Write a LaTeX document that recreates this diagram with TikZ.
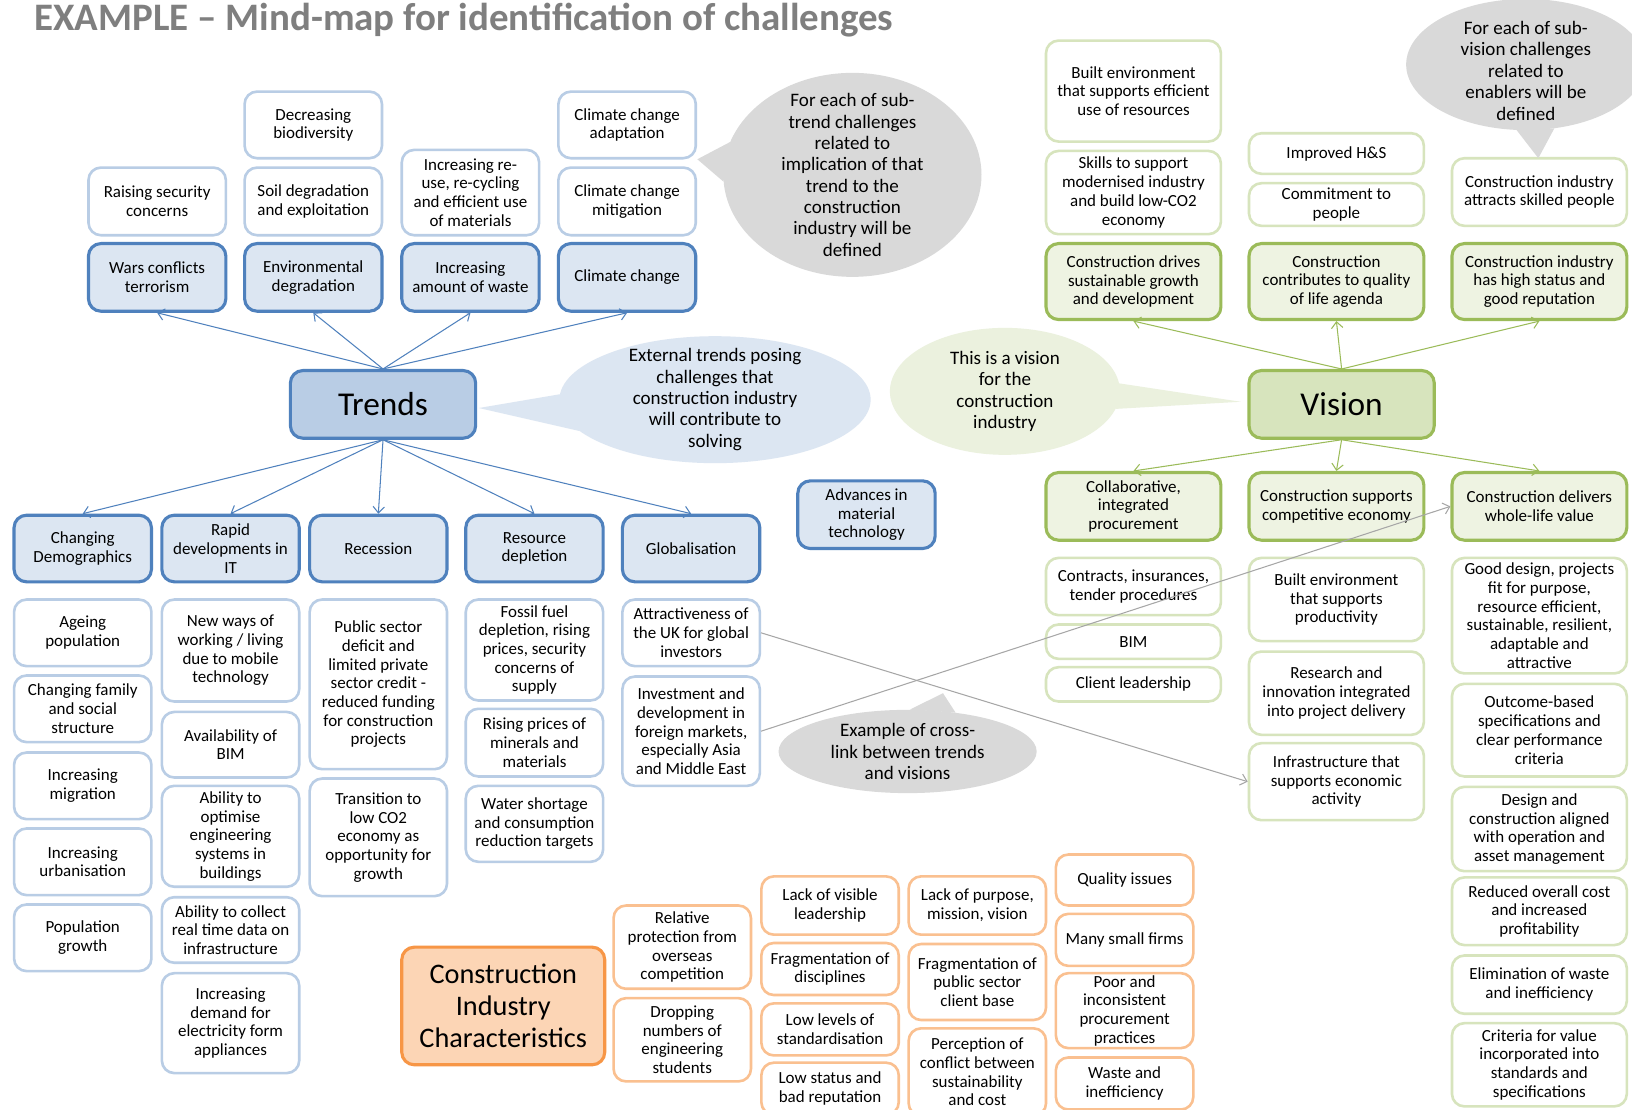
\documentclass[tikz,border=0pt]{standalone}
\usepackage{fontspec}
\setmainfont{Carlito}
\usetikzlibrary{shapes.geometric,arrows.meta}
\definecolor{tlight}{HTML}{B9CDE5}
\definecolor{tdark}{HTML}{4F81BD}
\definecolor{tfill}{HTML}{DCE6F2}
\definecolor{vlight}{HTML}{D7E4BD}
\definecolor{vdark}{HTML}{9BBB59}
\definecolor{vfill}{HTML}{EEF3E2}
\definecolor{vnote}{HTML}{EBF1DE}
\definecolor{olight}{HTML}{FAC090}
\definecolor{odark}{HTML}{F79646}
\definecolor{ofill}{HTML}{FCD5B5}
\definecolor{gnote}{HTML}{D9D9D9}
\definecolor{linkgray}{HTML}{A6A6A6}
\definecolor{titlegray}{HTML}{7F7F7F}
\begin{document}
\begin{tikzpicture}[x=1pt, y=-1pt,
  box/.style={draw, rounded corners=12pt, align=center, inner sep=2pt, line width=2.5pt, font=\fontsize{16.3}{18}\selectfont},
  tsub/.style={box, draw=tlight, fill=white, minimum width=132, minimum height=65},
  tmain/.style={box, draw=tdark, fill=tfill, minimum width=132, minimum height=65, line width=3pt},
  vsub/.style={box, draw=vlight, fill=white, minimum width=168, minimum height=65},
  vmain/.style={box, draw=vdark, fill=vfill, minimum width=168, minimum height=65, line width=3pt},
  csub/.style={box, draw=olight, fill=white, minimum width=132, minimum height=50},
  hub/.style={box, line width=3pt, minimum width=178, minimum height=65, font=\fontsize{32}{36}\selectfont},
  bubble/.style={ellipse, inner sep=0pt},
  btext/.style={align=center, font=\fontsize{18.3}{20.5}\selectfont},
  tarrow/.style={draw=tdark, line width=1pt, -{Straight Barb[length=6pt,width=11pt]}},
  varrow/.style={draw=vdark, line width=1pt, -{Straight Barb[length=6pt,width=11pt]}},
  xlink/.style={draw=linkgray, line width=1pt, -{Straight Barb[length=6pt,width=11pt]}}]
\useasboundingbox (0,0) rectangle (1568,1066);
\clip (0,0) rectangle (1568,1066);
\fill[white] (0,0) rectangle (1568,1066);

\node[anchor=base west, font=\fontsize{37.4}{42}\selectfont\bfseries, text=titlegray, inner sep=0pt] (title) at (33,29) {EXAMPLE – Mind-map for identification of challenges};

% trends
\node[hub, draw=tdark, fill=tlight] (trends) at (368,388.5) {Trends};

\node[tsub] (ts1) at (151,193.5) {Raising security\\concerns};
\node[tmain] (tt1) at (151,266.5) {Wars conflicts\\terrorism};
\node[tsub, minimum height=64] (ts2) at (301,120) {Decreasing\\biodiversity};
\node[tsub] (ts3) at (301,193.5) {Soil degradation\\and exploitation};
\node[tmain] (tt2) at (301,266.5) {Environmental\\degradation};
\node[tsub, minimum height=82] (ts4) at (452,185) {Increasing re-\\use, re-cycling\\and efficient use\\of materials};
\node[tmain] (tt3) at (452,266.5) {Increasing\\amount of waste};
\node[tsub, minimum height=64] (ts5) at (602.5,120) {Climate change\\adaptation};
\node[tsub] (ts6) at (602.5,193.5) {Climate change\\mitigation};
\node[tmain] (tt4) at (602.5,266.5) {Climate change};

\node[tmain, minimum height=64] (tb1) at (79.5,527) {Changing\\Demographics};
\node[tmain, minimum height=64] (tb2) at (221.5,527) {Rapid\\developments in\\IT};
\node[tmain, minimum height=64] (tb3) at (363.5,527) {Recession};
\node[tmain, minimum height=64] (tb4) at (513.5,527) {Resource\\depletion};
\node[tmain, minimum height=64] (tb5) at (664,527) {Globalisation};
\node[tmain] (tb6) at (832.5,494.5) {Advances in\\material\\technology};

\node[tsub, minimum height=64] (td1) at (79.5,608) {Ageing\\population};
\node[tsub, minimum height=64] (td2) at (79.5,681) {Changing family\\and social\\structure};
\node[tsub, minimum height=64] (td3) at (79.5,755) {Increasing\\migration};
\node[tsub, minimum height=64] (td4) at (79.5,828) {Increasing\\urbanisation};
\node[tsub, minimum height=64] (td5) at (79.5,901) {Population\\growth};

\node[tsub, minimum height=98] (ti1) at (221.5,625) {New ways of\\working / living\\due to mobile\\technology};
\node[tsub, minimum height=63] (ti2) at (221.5,715.5) {Availability of\\BIM};
\node[tsub, minimum height=97] (ti3) at (221.5,803.5) {Ability to\\optimise\\engineering\\systems in\\buildings};
\node[tsub, minimum height=63] (ti4) at (221.5,893.5) {Ability to collect\\real time data on\\infrastructure};
\node[tsub, minimum height=96] (ti5) at (221.5,983) {Increasing\\demand for\\electricity form\\appliances};

\node[tsub, minimum height=163] (tr1) at (363.5,657.5) {Public sector\\deficit  and\\limited private\\sector credit  -\\reduced funding\\for construction\\projects};
\node[tsub, minimum height=113] (tr2) at (363.5,804.5) {Transition to\\low CO2\\economy  as\\opportunity for\\growth};

\node[tsub, minimum height=97] (tp1) at (513.5,624.5) {Fossil fuel\\depletion, rising\\prices, security\\concerns of\\supply};
\node[tsub] (tp2) at (513.5,713.5) {Rising prices of\\minerals and\\materials};
\node[tsub, minimum height=73] (tp3) at (513.5,791.5) {Water shortage\\and consumption\\reduction targets};

\node[tsub, minimum height=64] (tg1) at (664,608) {Attractiveness of\\the UK for  global\\investors};
\node[tsub, minimum height=105] (tg2) at (664,702.5) {Investment and\\development in\\foreign markets,\\especially Asia\\and Middle East};

\draw[tarrow] (trends.north) -- (tt1.south);
\draw[tarrow] (trends.north) -- (tt2.south);
\draw[tarrow] (trends.north) -- (tt3.south);
\draw[tarrow] (trends.north) -- (tt4.south);
\draw[tarrow] (trends.south) -- (tb1.north);
\draw[tarrow] (trends.south) -- (tb2.north);
\draw[tarrow] (trends.south) -- (tb3.north);
\draw[tarrow] (trends.south) -- (tb4.north);
\draw[tarrow] (trends.south) -- (tb5.north);

% vision
\node[hub, draw=vdark, fill=vlight] (vision) at (1289,388.5) {Vision};

\node[vsub, minimum height=97] (vs1) at (1089,87.5) {Built environment\\that supports efficient\\use of resources};
\node[vsub, minimum height=80] (vs2) at (1089,185) {Skills to support\\modernised industry\\and build low-CO2\\economy};
\node[vmain, minimum height=73] (vt1) at (1089,270.5) {Construction drives\\sustainable growth\\and development};
\node[vsub, minimum height=39] (vs3) at (1284,147.5) {Improved H\&S};
\node[vsub, minimum height=41] (vs4) at (1284,196.5) {Commitment to\\people};
\node[vmain, minimum height=73] (vt2) at (1284,270.5) {Construction\\contributes to quality\\of life agenda};
\node[vsub] (vs5) at (1479,184.5) {Construction industry\\attracts skilled people};
\node[vmain, minimum height=73] (vt3) at (1479,270.5) {Construction industry\\has high status and\\good reputation};

\node[vmain] (vb1) at (1089,486.5) {Collaborative,\\integrated\\procurement};
\node[vmain] (vb2) at (1284,486.5) {Construction supports\\competitive economy};
\node[vmain] (vb3) at (1479,486.5) {Construction delivers\\whole-life value};

\node[vsub, minimum height=55] (vc1) at (1089,563.5) {Contracts, insurances,\\tender procedures};
\node[vsub, minimum height=33] (vc2) at (1089,616.5) {BIM};
\node[vsub, minimum height=33] (vc3) at (1089,657.5) {Client leadership};
\node[vsub, minimum height=80] (vc4) at (1284,576) {Built environment\\that supports\\productivity};
\node[vsub, minimum height=80] (vc5) at (1284,666) {Research and\\innovation integrated\\into project delivery};
\node[vsub, minimum height=74] (vc6) at (1284,751) {Infrastructure that\\supports economic\\activity};
\node[vsub, minimum height=111] (vc7) at (1479,591.5) {Good design, projects\\fit for purpose,\\resource efficient,\\sustainable, resilient,\\adaptable and\\attractive};
\node[vsub, minimum height=89] (vc8) at (1479,701.5) {Outcome-based\\specifications and\\clear performance\\criteria};
\node[vsub, minimum height=81] (vc9) at (1479,796.5) {Design and\\construction aligned\\with operation and\\asset management};
\node[vsub] (vc10) at (1479,875.5) {Reduced overall cost\\and increased\\profitability};
\node[vsub, minimum height=56] (vc11) at (1479,946) {Elimination of waste\\and inefficiency};
\node[vsub, minimum height=80] (vc12) at (1479,1023) {Criteria for value\\incorporated into\\standards and\\specifications};

\draw[varrow] (vision.north) -- (vt1.south);
\draw[varrow] (vision.north) -- (vt2.south);
\draw[varrow] (vision.north) -- (vt3.south);
\draw[varrow] (vision.south) -- (vb1.north);
\draw[varrow] (vision.south) -- (vb2.north);
\draw[varrow] (vision.south) -- (vb3.north);

% construction industry characteristics
\node[box, draw=odark, fill=ofill, line width=3pt, minimum width=195, minimum height=113, font=\fontsize{27.2}{31}\selectfont] (cic) at (483.5,966.5) {Construction\\Industry\\Characteristics};
\node[csub, minimum height=80] (co1) at (655.5,910) {Relative\\protection from\\overseas\\competition};
\node[csub, minimum height=80] (co2) at (655.5,999) {Dropping\\numbers of\\engineering\\students};
\node[csub, minimum height=56] (co3) at (797.5,870) {Lack of visible\\leadership};
\node[csub] (co4) at (797.5,931) {Fragmentation of\\disciplines};
\node[csub] (co5) at (797.5,989) {Low levels of\\standardisation};
\node[csub] (co6) at (797.5,1046) {Low status and\\bad reputation};
\node[csub, minimum height=56] (co7) at (939,870) {Lack of purpose,\\mission, vision};
\node[csub, minimum height=73] (co8) at (939,943.5) {Fragmentation of\\public sector\\client base};
\node[csub, minimum height=84] (co9) at (939,1030) {Perception of\\conflict between\\sustainability\\and cost};
\node[csub, minimum height=49] (co10) at (1080.5,845.5) {Quality issues};
\node[csub] (co11) at (1080.5,903) {Many small firms};
\node[csub, minimum height=72] (co12) at (1080.5,971) {Poor and\\inconsistent\\procurement\\practices};
\node[csub] (co13) at (1080.5,1041) {Waste and\\inefficiency};

% notes
\node[bubble, fill=gnote, minimum width=248, minimum height=196, label={[btext]center:For each of sub-\\trend challenges\\related to\\implication of that\\trend to the\\construction\\industry will be\\defined}] (note1) at (819,168) {};
\coordinate (tip1) at (670,153);
\fill[gnote] (note1.165) -- (tip1) -- (note1.183) -- cycle;

\node[bubble, fill=tfill, minimum width=299, minimum height=122, label={[btext]center:External trends  posing\\challenges that\\construction industry\\will contribute  to\\solving}] (note2) at (687,384) {};
\coordinate (tip2) at (460,392);
\fill[tfill] (note2.178) -- (tip2) -- (note2.193) -- cycle;

\node[bubble, fill=vnote, minimum width=221, minimum height=122, label={[btext]center:This is a vision\\for the\\construction\\industry}] (note3) at (965.5,376) {};
\coordinate (tip3) at (1192,386);
\fill[vnote] (note3.4) -- (tip3) -- (note3.351) -- cycle;

\node[bubble, fill=gnote, minimum width=230, minimum height=126, label={[btext, yshift=-6pt]center:For each of sub-\\vision  challenges\\related to\\enablers will be\\defined}] (note4) at (1466,62) {};
\coordinate (tip4) at (1478,152);
\fill[gnote] (note4.262) -- (tip4) -- (note4.294) -- cycle;

\node[bubble, fill=gnote, minimum width=248, minimum height=80, label={[btext]center:Example of cross-\\link between trends\\and visions}] (note5) at (872,722) {};
\coordinate (tip5) at (906,666);
\fill[gnote] (note5.87) -- (tip5) -- (note5.39) -- cycle;

% cross-links
\draw[xlink] (tg1.east) -- (vc6.west);
\draw[xlink] (tg2.east) -- (vb3.west);
\end{tikzpicture}
\end{document}
